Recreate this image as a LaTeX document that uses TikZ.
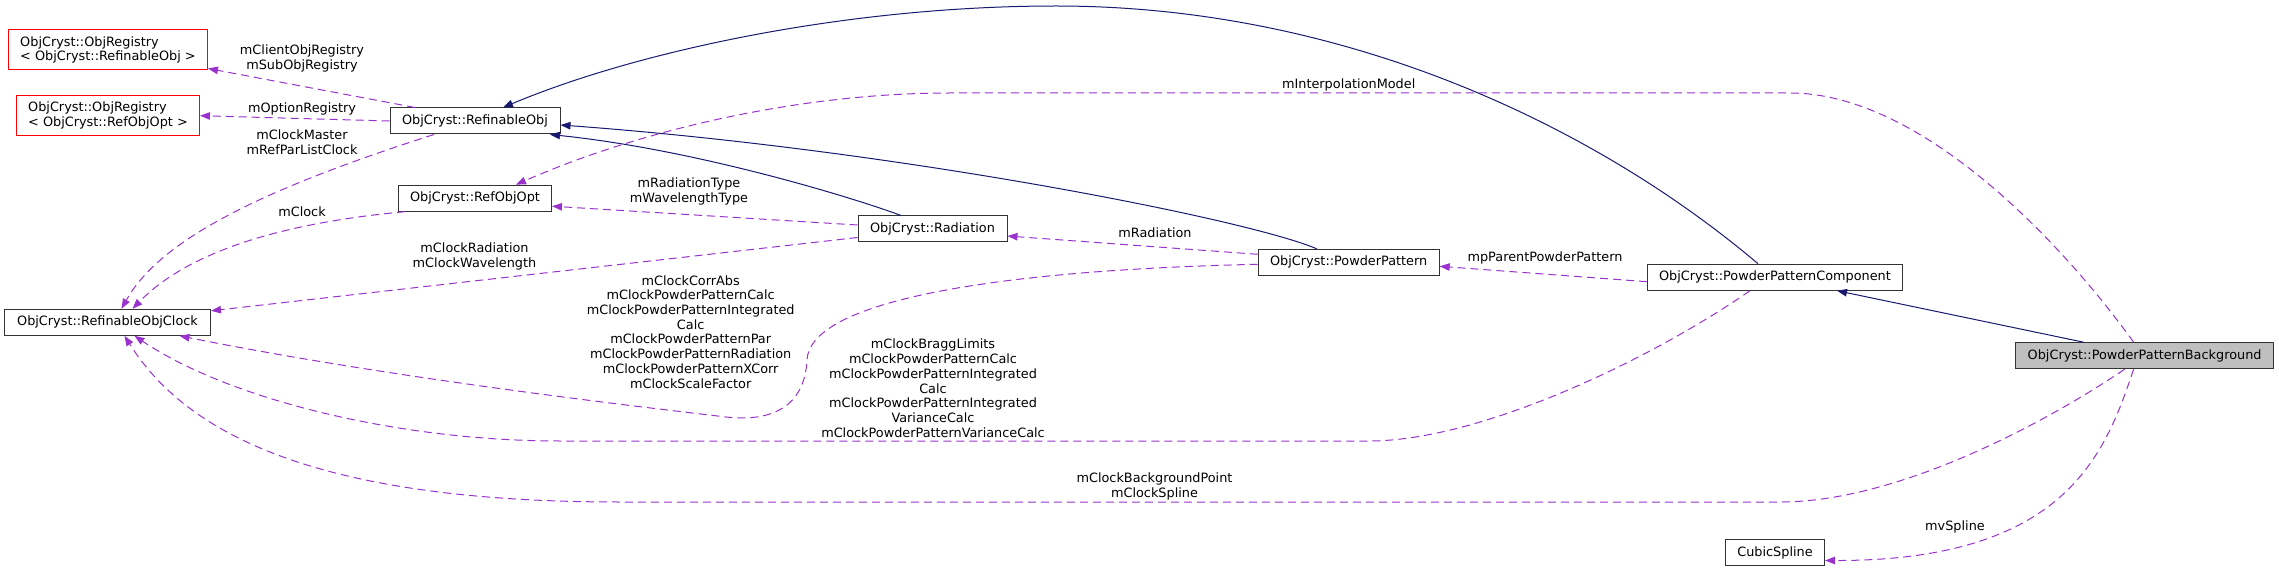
\documentclass[tikz,border=0pt]{standalone}
\usepackage{fontspec}
\setmainfont{DejaVu Sans}
\usetikzlibrary{arrows.meta}
\definecolor{ink}{HTML}{000000}
\definecolor{frame}{HTML}{333333}
\definecolor{navy}{HTML}{191970}
\definecolor{orchid}{HTML}{9A32CD}
\definecolor{undocline}{HTML}{FF0000}
\definecolor{focusfill}{HTML}{BFBFBF}
\newcommand{\lbl}{\fontsize{12.84}{14.7}\selectfont}
\tikzset{
 every node/.append style={font=\lbl,text=ink,align=center},
 cls/.style={draw=frame,fill=white,line width=1pt,inner sep=0pt,minimum height=26pt},
 undoc/.style={cls,draw=undocline,minimum height=40pt,align=left},
 focus/.style={cls,fill=focusfill},
 tag/.style={inner sep=0pt},
 inherit/.style={-{Triangle[length=10pt,width=7.5pt]},draw=navy,line width=1pt},
 uses/.style={-{Triangle[length=10pt,width=7.5pt]},draw=orchid,line width=1pt,dash pattern=on 8pt off 5pt},
}

\begin{document}
\begin{tikzpicture}[x=1pt,y=-1pt]
\useasboundingbox (0,0) rectangle (2279,572);

% classes
\node[undoc,minimum width=199pt] (regobj) at (108,50)
  {ObjCryst::ObjRegistry\\< ObjCryst::RefinableObj >};
\node[undoc,minimum width=183pt] (regopt) at (108,115.7)
  {ObjCryst::ObjRegistry\\< ObjCryst::RefObjOpt >};
\node[cls,minimum width=206pt] (clock) at (107.5,322.3) {ObjCryst::RefinableObjClock};
\node[cls,minimum width=170pt] (refobj) at (475,121) {ObjCryst::RefinableObj};
\node[cls,minimum width=153pt] (opt) at (475,198.2) {ObjCryst::RefObjOpt};
\node[cls,minimum width=149pt] (rad) at (932.5,229) {ObjCryst::Radiation};
\node[cls,minimum width=181pt] (pattern) at (1348.7,262.3) {ObjCryst::PowderPattern};
\node[cls,minimum width=255pt] (comp) at (1775,277.2) {ObjCryst::PowderPatternComponent};
\node[cls,minimum width=99pt] (spline) at (1775,552.5) {CubicSpline};
\node[focus,minimum width=258pt] (bkg) at (2144.6,355.7) {ObjCryst::PowderPatternBackground};

% member labels
\node[tag] (lclient) at (302,58.7) {mClientObjRegistry\\mSubObjRegistry};
\node[tag] (loption) at (302,109.3) {mOptionRegistry};
\node[tag] (lmaster) at (302,142.5) {mClockMaster\\mRefParListClock};
\node[tag] (lclock) at (302,212) {mClock};
\node[tag] (lradtype) at (689,191.8) {mRadiationType\\mWavelengthType};
\node[tag] (lclockrad) at (474.5,256.8) {mClockRadiation\\mClockWavelength};
\node[tag] (lrad) at (1155,232.3) {mRadiation};
\node[tag] (lparent) at (1545,257.7) {mpParentPowderPattern};
\node[tag] (linterp) at (1348.7,85) {mInterpolationModel};
\node[tag] (lcorr) at (690.7,331.8)
  {mClockCorrAbs\\mClockPowderPatternCalc\\mClockPowderPatternIntegrated\\Calc\\
   mClockPowderPatternPar\\mClockPowderPatternRadiation\\mClockPowderPatternXCorr\\mClockScaleFactor};
\node[tag] (lbragg) at (933,388.3)
  {mClockBraggLimits\\mClockPowderPatternCalc\\mClockPowderPatternIntegrated\\Calc\\
   mClockPowderPatternIntegrated\\VarianceCalc\\mClockPowderPatternVarianceCalc};
\node[tag] (lbkg) at (1154.5,486.5) {mClockBackgroundPoint\\mClockSpline};
\node[tag] (lspline) at (1955,527) {mvSpline};

% inheritance
\draw[inherit] ([xshift=-17pt]comp.north) .. controls (1600,130) and (1350,6) .. (1056,6)
  .. controls (850,6) and (640,50) .. ([xshift=28pt]refobj.north);
\draw[inherit] ([xshift=-32pt]pattern.north) .. controls (1250,220) and (900,150) .. ([yshift=-4pt]refobj.east);
\draw[inherit] ([xshift=-31.5pt]rad.north) .. controls (860,200) and (700,150) .. ([xshift=75pt]refobj.south);
\draw[inherit] ([xshift=-61pt]bkg.north) -- ([xshift=62pt]comp.south);

% usage
\draw[uses] ([xshift=-60pt]refobj.north) -- ([yshift=2pt]regobj.south east);
\draw[uses] (refobj.west) -- (regopt.east);
\draw[uses] ([xshift=-41pt]refobj.south) .. controls (260,190) and (160,240) .. ([xshift=14pt]clock.north);
\draw[uses] ([xshift=-70pt]opt.south) .. controls (260,225) and (180,260) .. ([xshift=25pt]clock.north);
\draw[uses] ([yshift=4pt]rad.west) -- ([yshift=-8pt]opt.east);
\draw[uses] ([yshift=-8.5pt]rad.west) -- ([yshift=-2pt]clock.north east);
\draw[uses] ([yshift=8pt]pattern.west) -- ([yshift=-7pt]rad.east);
\draw[uses] ([yshift=-2pt]pattern.west) .. controls (1000,270) and (810,300) .. (807,360)
  .. controls (805,400) and (780,423) .. (726,417)
  .. controls (660,409) and (400,380) .. ([xshift=72pt]clock.south);
\draw[uses] ([yshift=-4.5pt]comp.west) -- ([yshift=-4pt]pattern.east);
\draw[uses] ([xshift=-25pt]comp.south) .. controls (1650,360) and (1480,441) .. (1369,441)
  -- (560,441) .. controls (400,441) and (230,400) .. ([xshift=27pt]clock.south);
\draw[uses] ([xshift=-20pt]bkg.south) .. controls (2050,420) and (1900,502) .. (1780,502)
  -- (620,502) .. controls (330,502) and (190,440) .. ([xshift=17pt]clock.south);
\draw[uses] ([xshift=-11pt]bkg.south) .. controls (2105,455) and (2065,561) .. ([yshift=-8pt]spline.east);
\draw[uses] ([xshift=-11pt]bkg.north) .. controls (2060,240) and (1920,93) .. (1790,93)
  -- (950,93) .. controls (800,93) and (640,130) .. ([xshift=41pt]opt.north);
\end{tikzpicture}
\end{document}
